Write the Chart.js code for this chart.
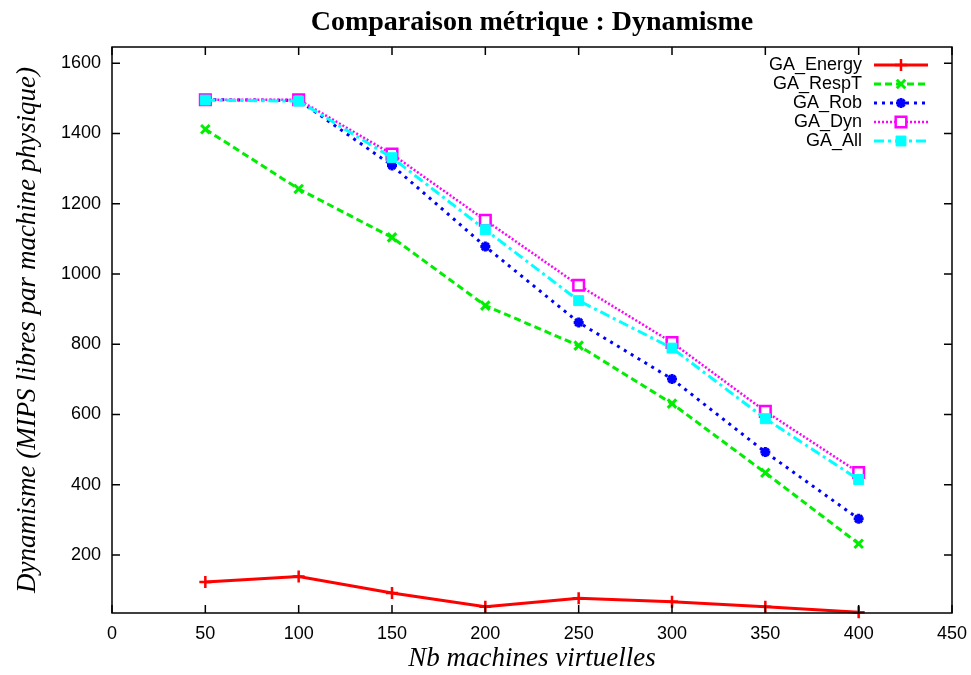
<!DOCTYPE html>
<html>
<head>
<meta charset="utf-8">
<script src="https://cdn.jsdelivr.net/npm/chart.js@4"></script>
<style>
html, body { margin: 0; padding: 0; background: #fff; }
#wrap { width: 971px; height: 675px; }
</style>
</head>
<body>
<div id="wrap"><canvas id="chartDyn" width="971" height="675"></canvas></div>
<script>
var nbVM = [50, 100, 150, 200, 250, 300, 350, 400];
var gaEnergy = [123, 139, 92, 53, 77, 67, 53, 37];
var gaRespT = [1412, 1242, 1104, 910, 796, 631, 434, 232];
var gaRob = [1496, 1494, 1309, 1078, 862, 701, 493, 303];
var gaDyn = [1496, 1496, 1341, 1153, 968, 805, 609, 435];
var gaAll = [1495, 1492, 1331, 1126, 924, 789, 588, 415];
var xTicks = [0, 50, 100, 150, 200, 250, 300, 350, 400, 450];
var yTicks = [200, 400, 600, 800, 1000, 1200, 1400, 1600];

function pts(values) {
    return nbVM.map(function(x, i) { return {x: x, y: values[i]}; });
}

var dataChartDyn = {
    datasets: [
        {
            label: 'GA_Energy', data: pts(gaEnergy), order: 5,
            borderColor: '#ff0000', backgroundColor: '#ff0000', borderWidth: 3,
            pointStyle: 'cross', pointRadius: 6, pointBorderWidth: 2.5
        },
        {
            label: 'GA_RespT', data: pts(gaRespT), order: 4,
            borderColor: '#00ee00', backgroundColor: '#00ee00', borderWidth: 3, borderDash: [7, 4],
            pointStyle: 'crossRot', pointRadius: 6, pointBorderWidth: 3
        },
        {
            label: 'GA_Rob', data: pts(gaRob), order: 3,
            borderColor: '#0000ff', backgroundColor: '#0000ff', borderWidth: 3, borderDash: [3, 5],
            pointStyle: 'star', pointRadius: 5, pointBorderWidth: 3
        },
        {
            label: 'GA_Dyn', data: pts(gaDyn), order: 2,
            borderColor: '#ff00ff', backgroundColor: '#ffffff', borderWidth: 2.5, borderDash: [2, 2],
            pointStyle: 'rect', pointRadius: 7.5, pointBorderWidth: 2.5
        },
        {
            label: 'GA_All', data: pts(gaAll), order: 1,
            borderColor: '#00ffff', backgroundColor: '#00ffff', borderWidth: 3, borderDash: [10, 4, 3, 4],
            pointStyle: 'rect', pointRadius: 7, pointBorderWidth: 1
        }
    ]
};

// cadre + graduations vers l'interieur (style gnuplot)
var framePlugin = {
    id: 'frame',
    afterDraw: function(chart) {
        var ctx = chart.ctx, a = chart.chartArea;
        var sx = chart.scales.x, sy = chart.scales.y;
        ctx.save();
        ctx.strokeStyle = '#000';
        ctx.lineWidth = 1.5;
        ctx.strokeRect(a.left, a.top, a.right - a.left, a.bottom - a.top);
        ctx.beginPath();
        xTicks.forEach(function(v) {
            var px = sx.getPixelForValue(v);
            ctx.moveTo(px, a.bottom); ctx.lineTo(px, a.bottom - 8);
            ctx.moveTo(px, a.top); ctx.lineTo(px, a.top + 8);
        });
        yTicks.forEach(function(v) {
            var py = sy.getPixelForValue(v);
            ctx.moveTo(a.left, py); ctx.lineTo(a.left + 8, py);
            ctx.moveTo(a.right, py); ctx.lineTo(a.right - 8, py);
        });
        ctx.stroke();
        ctx.restore();
    }
};

// titre centre sur la zone de trace
var titlePlugin = {
    id: 'titreGnuplot',
    afterDraw: function(chart) {
        var ctx = chart.ctx, a = chart.chartArea;
        ctx.save();
        ctx.font = 'bold 28px "Liberation Serif"';
        ctx.fillStyle = '#000';
        ctx.textAlign = 'center';
        ctx.textBaseline = 'alphabetic';
        ctx.fillText('Comparaison métrique : Dynamisme', (a.left + a.right) / 2, 30);
        ctx.restore();
    }
};

// legende : texte a droite, echantillon de ligne a gauche
var legendPlugin = {
    id: 'legendeGnuplot',
    afterDraw: function(chart) {
        var ctx = chart.ctx;
        var rowY = [65, 84, 103, 122, 141];
        chart.data.datasets.forEach(function(ds, i) {
            var y = rowY[i];
            ctx.save();
            ctx.font = '18px "Liberation Sans"';
            ctx.fillStyle = '#000';
            ctx.textAlign = 'right';
            ctx.textBaseline = 'middle';
            ctx.fillText(ds.label, 862, y);
            ctx.strokeStyle = ds.borderColor;
            ctx.lineWidth = ds.borderWidth;
            ctx.setLineDash(ds.borderDash || []);
            ctx.beginPath();
            ctx.moveTo(874, y); ctx.lineTo(928, y);
            ctx.stroke();
            ctx.setLineDash([]);
            ctx.fillStyle = ds.backgroundColor;
            ctx.strokeStyle = ds.borderColor;
            ctx.lineWidth = ds.pointBorderWidth;
            Chart.helpers.drawPoint(ctx, {
                pointStyle: ds.pointStyle, radius: ds.pointRadius, rotation: 0,
                borderWidth: ds.pointBorderWidth
            }, 901, y);
            ctx.restore();
        });
    }
};

var ctxChartDyn = document.getElementById('chartDyn');
var chartDyn = new Chart(ctxChartDyn, {
    type: 'line',
    data: dataChartDyn,
    plugins: [framePlugin, titlePlugin, legendPlugin],
    options: {
        responsive: false,
        animation: false,
        clip: false,
        layout: { padding: { left: 0, right: 19, top: 47, bottom: 0 } },
        elements: { line: { tension: 0, fill: false } },
        plugins: {
            legend: { display: false },
            title: { display: false },
            tooltip: { enabled: false }
        },
        scales: {
            x: {
                type: 'linear', min: 0, max: 450,
                afterFit: function(s) { s.height = 62; s.paddingLeft = 0; s.paddingRight = 0; },
                afterBuildTicks: function(s) { s.ticks = xTicks.map(function(v) { return {value: v}; }); },
                grid: { display: false, drawTicks: false },
                border: { display: false },
                ticks: {
                    color: '#000', font: { family: 'Liberation Sans', size: 18 }, padding: 10, maxRotation: 0,
                    callback: function(v) { return String(v); }
                },
                title: {
                    display: true, text: 'Nb machines virtuelles', color: '#000',
                    font: { family: 'Liberation Serif', size: 27, style: 'italic' },
                    padding: { top: 0, bottom: 0 }
                }
            },
            y: {
                type: 'linear', min: 35, max: 1646,
                afterFit: function(s) { s.width = 112; s.paddingTop = 0; s.paddingBottom = 0; },
                afterBuildTicks: function(s) { s.ticks = yTicks.map(function(v) { return {value: v}; }); },
                grid: { display: false, drawTicks: false },
                border: { display: false },
                ticks: {
                    color: '#000', font: { family: 'Liberation Sans', size: 18 }, padding: 11,
                    callback: function(v) { return String(v); }
                },
                title: {
                    display: true, text: 'Dynamisme (MIPS libres par machine physique)', color: '#000',
                    font: { family: 'Liberation Serif', size: 27, style: 'italic' },
                    padding: { top: 12, bottom: 0 }
                }
            }
        }
    }
});
</script>
</body>
</html>
